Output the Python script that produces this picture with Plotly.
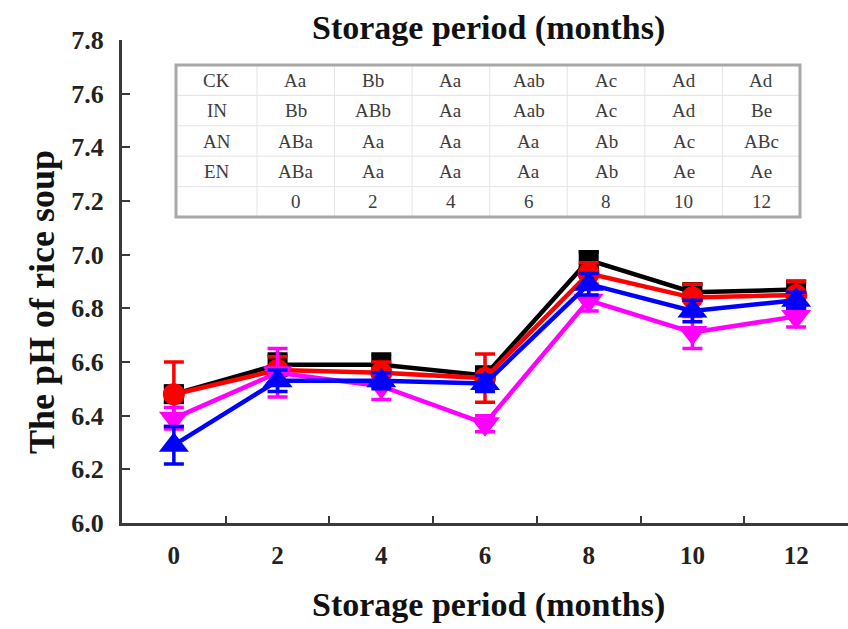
import plotly.graph_objects as go

months = ["0", "2", "4", "6", "8", "10", "12"]
groups = ["CK", "IN", "AN", "EN"]

ck = [6.48, 6.59, 6.59, 6.55, 6.98, 6.86, 6.87]
ck_err = [0.03, 0.04, 0.04, 0.03, 0.03, 0.03, 0.03]
in_ = [6.48, 6.57, 6.56, 6.54, 6.93, 6.84, 6.85]
in_err = [0.12, 0.05, 0.04, 0.09, 0.04, 0.05, 0.05]
an = [6.29, 6.53, 6.53, 6.52, 6.89, 6.79, 6.83]
an_err = [0.07, 0.04, 0.03, 0.03, 0.04, 0.04, 0.03]
en = [6.39, 6.56, 6.51, 6.37, 6.83, 6.71, 6.77]
en_err = [0.04, 0.09, 0.05, 0.03, 0.04, 0.06, 0.04]

sig_ck = ["Aa", "Bb", "Aa", "Aab", "Ac", "Ad", "Ad"]
sig_in = ["Bb", "ABb", "Aa", "Aab", "Ac", "Ad", "Be"]
sig_an = ["ABa", "Aa", "Aa", "Aa", "Ab", "Ac", "ABc"]
sig_en = ["ABa", "Aa", "Aa", "Aa", "Ab", "Ae", "Ae"]

W, H = 848, 629
L, R, T, B = 122, 0, 40, 106
PW, PH = W - L - R, H - T - B

def px(x):
    return (x - L) / PW

def py(y):
    return (H - B - y) / PH

fig = go.Figure()

series = [
    ("CK", ck, ck_err, "#000000", "square", 20),
    ("IN", in_, in_err, "#ff0000", "circle", 22),
    ("EN", en, en_err, "#ff00ff", "triangle-down", 26),
    ("AN", an, an_err, "#0000ff", "triangle-up", 26),
]
for name, vals, err, col, sym, size in series:
    fig.add_trace(go.Scatter(
        x=months, y=vals, name=name, mode="lines+markers",
        line=dict(color=col, width=4.5),
        marker=dict(symbol=sym, size=size, color=col, line=dict(width=0)),
        error_y=dict(type="data", array=err, color=col, thickness=3.5, width=10),
        showlegend=False,
    ))

serif = "Liberation Serif, Times New Roman, serif"
axcol = "#3a3a3a"

fig.update_xaxes(
    type="category", range=[-0.5, 6.5], tickson="boundaries",
    ticks="inside", ticklen=7, tickwidth=2, tickcolor=axcol,
    showline=True, linecolor=axcol, linewidth=3, showgrid=False,
    tickfont=dict(family=serif, size=25, color="#222", weight="bold"),
    ticklabelstandoff=8,
)
fig.update_yaxes(
    range=[6.0, 7.8], dtick=0.2, tick0=6.0, tickformat=".1f",
    ticks="inside", ticklen=8, tickwidth=2, tickcolor=axcol,
    showline=True, linecolor=axcol, linewidth=3, showgrid=False, zeroline=False,
    tickfont=dict(family=serif, size=26, color="#222", weight="bold"),
    ticklabelstandoff=10,
)

def ann(text, x, y, size, color, angle=0):
    return dict(text=text, x=px(x), y=py(y), xref="paper", yref="paper",
                xanchor="center", yanchor="middle", showarrow=False,
                textangle=angle, font=dict(family=serif, size=size, color=color))

annotations = [
    ann("<b>Storage period (months)</b>", 488, 28, 34, "#111"),
    ann("<b>Storage period (months)</b>", 488, 605, 34, "#111"),
    ann("<b>The pH of rice soup</b>", 42, 302, 36, "#111", -90),
]

# inset table
tl, tr, tt, tb = 176, 800, 65, 217
col_edges = [tl, 257] + [257 + (tr - 257) * k / 7 for k in range(1, 8)]
nrows = 5
row_edges = [tt + (tb - tt) * k / nrows for k in range(nrows + 1)]
rows = [
    ["CK"] + sig_ck,
    ["IN"] + sig_in,
    ["AN"] + sig_an,
    ["EN"] + sig_en,
    [""] + months,
]
shapes = []
for xe in col_edges[1:-1]:
    shapes.append(dict(type="line", xref="paper", yref="paper",
                       x0=px(xe), x1=px(xe), y0=py(tt), y1=py(tb),
                       line=dict(color="#e4e4e4", width=1)))
for ye in row_edges[1:-1]:
    shapes.append(dict(type="line", xref="paper", yref="paper",
                       x0=px(tl), x1=px(tr), y0=py(ye), y1=py(ye),
                       line=dict(color="#e4e4e4", width=1)))
shapes.append(dict(type="rect", xref="paper", yref="paper",
                   x0=px(tl), x1=px(tr), y0=py(tt), y1=py(tb),
                   line=dict(color="#a8a8a8", width=3)))
for r, row in enumerate(rows):
    yc = (row_edges[r] + row_edges[r + 1]) / 2
    for c, txt in enumerate(row):
        if not txt:
            continue
        xc = (col_edges[c] + col_edges[c + 1]) / 2
        annotations.append(ann(txt, xc, yc, 19, "#3c3c3c"))

fig.update_layout(
    width=W, height=H, margin=dict(l=L, r=R, t=T, b=B),
    paper_bgcolor="white", plot_bgcolor="white",
    annotations=annotations, shapes=shapes,
)

fig.write_html("out.html", config={"displayModeBar": False},
               post_script="document.body.style.margin='0';document.body.style.padding='0';")
